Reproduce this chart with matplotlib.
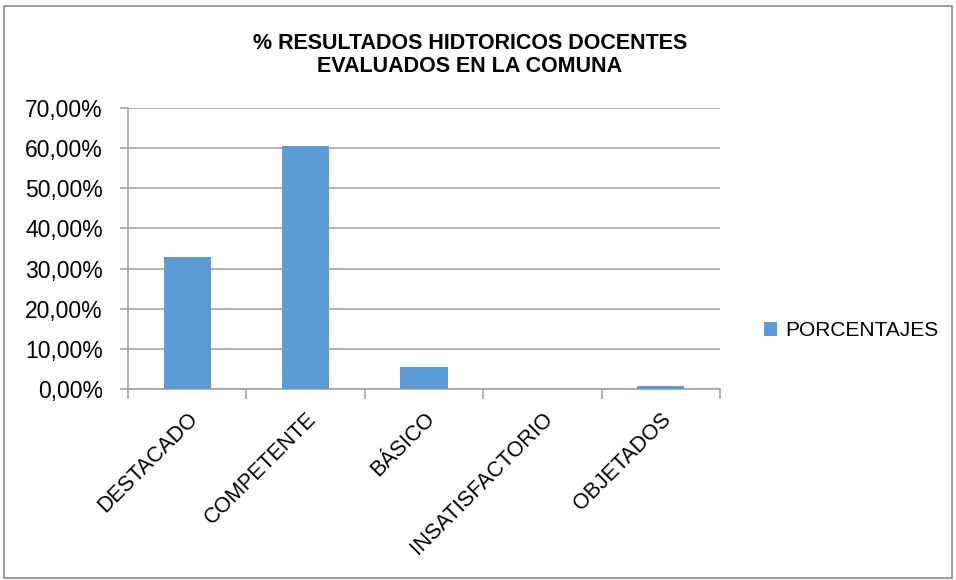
import matplotlib
matplotlib.use("Agg")
import matplotlib.pyplot as plt
from matplotlib.ticker import FuncFormatter
from matplotlib.patches import Rectangle

categories = ["DESTACADO", "COMPETENTE", "BÁSICO", "INSATISFACTORIO", "OBJETADOS"]
values = [32.9, 60.6, 5.5, 0.0, 0.8]
series_name = "PORCENTAJES"
title = "% RESULTADOS HIDTORICOS DOCENTES\nEVALUADOS EN LA COMUNA"

color = "#5B9BD5"
grid_c = "#A6A6A6"

plt.rcParams['font.family'] = ['Liberation Sans', 'DejaVu Sans']

fig = plt.figure(figsize=(9.56, 5.8), dpi=100)
fig.patches.append(Rectangle((0.004, 0.003), 0.992, 0.987, transform=fig.transFigure,
                             fill=False, edgecolor="#8c8c8c", linewidth=1.2))
ax = fig.add_axes([128/956, 1-389/580, (720-128)/956, (389-108)/580])

x = list(range(len(categories)))
ax.bar(x, values, width=0.4, color=color, label=series_name, zorder=3)
ax.set_xlim(-0.5, len(categories)-0.5)
ax.set_ylim(0, 70)
ax.set_yticks(range(0, 71, 10))
ax.yaxis.set_major_formatter(FuncFormatter(lambda v, p: f"{v:.2f}%".replace(".", ",")))
ax.grid(axis="y", color=grid_c, linewidth=1.2, zorder=0)
for s in ["top", "right"]:
    ax.spines[s].set_visible(False)
ax.spines["left"].set_color(grid_c)
ax.spines["bottom"].set_color(grid_c)
ax.spines["left"].set_linewidth(1.2)
ax.spines["bottom"].set_linewidth(1.2)

ax.set_xticks([i - 0.5 for i in range(len(categories)+1)], minor=False)
ax.set_xticklabels([])
ax.tick_params(axis="x", which="major", length=7, color=grid_c, width=1.2)
ax.set_xticks(x, minor=True)
ax.set_xticklabels(categories, minor=True, rotation=45, ha="right", va="top",
                   rotation_mode="anchor", fontsize=15.5)
ax.tick_params(axis="x", which="minor", length=0, pad=14)
ax.tick_params(axis="y", length=6, color=grid_c, width=1.2, labelsize=16.5, pad=12)

fig.text(470/956, 1-55/580, title, ha="center", va="center", fontsize=15.5,
         fontweight="bold", linespacing=1.1)

fig.legend(loc="center left", bbox_to_anchor=(745/956, 1-331/580), frameon=False,
           fontsize=15, handlelength=0.65, handleheight=0.65, handletextpad=0.4)

fig.savefig("out.png", dpi=100)
